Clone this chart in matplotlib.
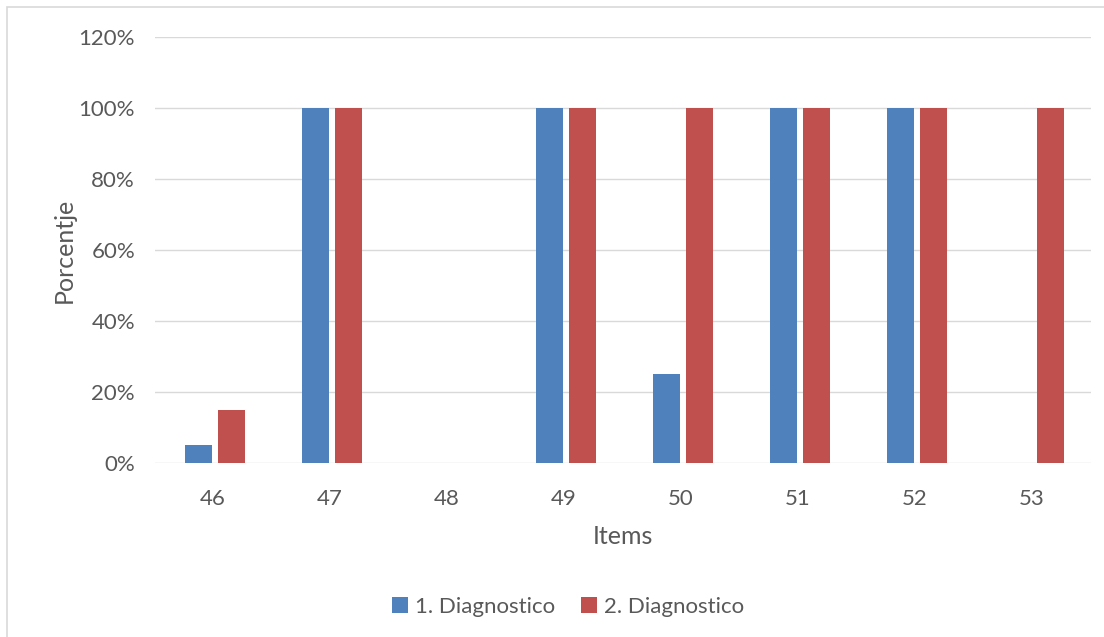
import matplotlib.pyplot as plt
from matplotlib.patches import Rectangle
from matplotlib.ticker import PercentFormatter
import numpy as np

# data
items = ["46", "47", "48", "49", "50", "51", "52", "53"]
diag1 = [5, 100, 0, 100, 25, 100, 100, 0]
diag2 = [15, 100, 0, 100, 100, 100, 100, 100]

plt.rcParams['font.family'] = ['Lato', 'DejaVu Sans']
text_col = '#595959'

fig = plt.figure(figsize=(11.04, 6.37), dpi=100)
W, H = 1104, 637
ax = fig.add_axes([154.5 / W, 1 - 463 / H, 936 / W, 426 / H])

# outer chart frame
fig.patches.append(Rectangle((7 / W, -0.01), 1.1, 1 - 7 / H + 0.01, transform=fig.transFigure,
                             fill=False, edgecolor='#D9D9D9', linewidth=1.2))

x = np.arange(len(items))
w = 0.23
ax.bar(x - 0.125, diag1, w, color='#4F81BD', label='1. Diagnostico', zorder=3)
ax.bar(x + 0.16, diag2, w, color='#C0504D', label='2. Diagnostico', zorder=3)

ax.set_xlim(-0.5, len(items) - 0.5)
ax.set_ylim(0, 120)
ax.set_yticks(range(0, 121, 20))
ax.yaxis.set_major_formatter(PercentFormatter(decimals=0))
ax.set_xticks(x)
ax.set_xticklabels(items)
ax.grid(axis='y', color='#D9D9D9', linewidth=1, zorder=0)
for s in ax.spines.values():
    s.set_visible(False)
ax.tick_params(length=0, colors=text_col, labelsize=16)
ax.tick_params(axis='y', pad=14)
ax.tick_params(axis='x', pad=19)

ax.set_xlabel('Items', fontsize=18, color=text_col, labelpad=11)
ax.set_ylabel('Porcentje', fontsize=18, color=text_col, labelpad=2)

ax.legend(loc='center', bbox_to_anchor=(568 / W, 1 - 607 / H), bbox_transform=fig.transFigure,
          ncol=2, frameon=False, fontsize=16, labelcolor=text_col, handlelength=0.7,
          handleheight=0.7, handletextpad=0.3, columnspacing=1.2)

fig.savefig('out.png', dpi=100)
